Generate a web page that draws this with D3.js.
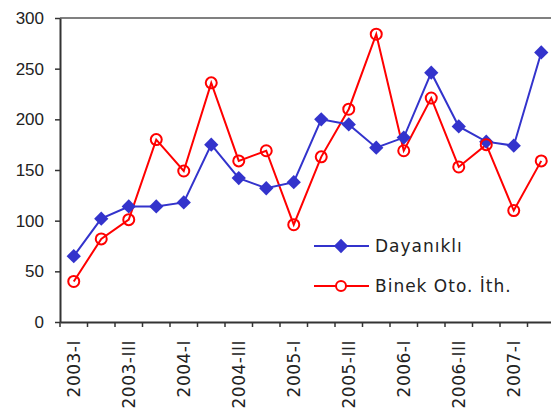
<!DOCTYPE html>
<html>
<head>
<meta charset="utf-8">
<script src="https://cdn.jsdelivr.net/npm/d3@7"></script>
<style>
    body { margin: 0; background: #fff; }
    svg { display: block; font-family: "Century Gothic", "DejaVu Sans", sans-serif; }
</style>
</head>
<body>
<div id="chart"></div>
<script>
const categories = ['2003-I', '2003-II', '2003-III', '2003-IV', '2004-I', '2004-II', '2004-III', '2004-IV',
    '2005-I', '2005-II', '2005-III', '2005-IV', '2006-I', '2006-II', '2006-III', '2006-IV', '2007-I', '2007-II'];
const dayanikli = [65, 102, 114, 114, 118, 175, 142, 132, 138, 200, 195, 172, 182, 246, 193, 178, 174, 266];
const binekOto = [40, 82, 101, 180, 149, 236, 159, 169, 96, 163, 210, 284, 169, 221, 153, 175, 110, 159];
const yTicks = [0, 50, 100, 150, 200, 250, 300];
const seriesNames = ['Dayanıklı', 'Binek Oto. İth.'];

const width = 551, height = 412;
const margin = { top: 18, right: -4, bottom: 90, left: 60 };

const svg = d3.select('#chart').append('svg')
    .attr('width', width)
    .attr('height', height);

const x = d3.scaleBand()
    .domain(categories)
    .range([margin.left, width - margin.right]);

const y = d3.scaleLinear()
    .domain([0, 300])
    .range([height - margin.bottom, margin.top]);

// top border
svg.append('line')
    .attr('x1', margin.left).attr('x2', width)
    .attr('y1', y(300)).attr('y2', y(300))
    .attr('stroke', '#808080').attr('stroke-width', 2);

// y axis
const yAxis = svg.append('g')
    .attr('transform', `translate(${margin.left},0)`)
    .call(d3.axisLeft(y).tickValues(yTicks).tickSize(5).tickPadding(11).tickSizeOuter(0));
yAxis.select('.domain').attr('stroke', '#333').attr('stroke-width', 2);
yAxis.selectAll('.tick line').attr('stroke', '#333').attr('stroke-width', 1.5);
yAxis.selectAll('text').attr('font-size', 17).attr('fill', '#222').attr('font-family', null);

// x axis
const xAxis = svg.append('g')
    .attr('transform', `translate(0,${y(0)})`)
    .call(d3.axisBottom(x).tickSize(0).tickSizeOuter(0).tickFormat(''));
xAxis.select('.domain').attr('stroke', '#333').attr('stroke-width', 2);

// tick marks between categories
svg.append('g').selectAll('line')
    .data(categories)
    .join('line')
    .attr('x1', d => x(d)).attr('x2', d => x(d))
    .attr('y1', y(0)).attr('y2', y(0) + 5)
    .attr('stroke', '#333').attr('stroke-width', 1.5);

// category labels, every second one
svg.append('g').selectAll('text')
    .data(categories.filter((d, i) => i % 2 === 0))
    .join('text')
    .attr('transform', d => `translate(${x(d) + x.bandwidth() / 2 + 6},${y(0) + 18}) rotate(-90)`)
    .attr('text-anchor', 'end')
    .attr('font-size', 17)
    .attr('letter-spacing', 0.5)
    .attr('fill', '#222')
    .text(d => d);

const line = d3.line()
    .x((d, i) => x(categories[i]) + x.bandwidth() / 2)
    .y(d => y(d));

const blue = '#3333cc', red = '#ff0000';

// Binek Oto. line
svg.append('path')
    .datum(binekOto)
    .attr('fill', 'none')
    .attr('stroke', red)
    .attr('stroke-width', 2)
    .attr('d', line);

// Dayanikli line
svg.append('path')
    .datum(dayanikli)
    .attr('fill', 'none')
    .attr('stroke', blue)
    .attr('stroke-width', 2)
    .attr('d', line);

const diamond = d3.symbol().type(d3.symbolDiamond2).size(130);

svg.append('g').selectAll('path')
    .data(dayanikli)
    .join('path')
    .attr('transform', (d, i) => `translate(${x(categories[i]) + x.bandwidth() / 2},${y(d)})`)
    .attr('d', diamond)
    .attr('fill', blue);

svg.append('g').selectAll('circle')
    .data(binekOto)
    .join('circle')
    .attr('cx', (d, i) => x(categories[i]) + x.bandwidth() / 2)
    .attr('cy', d => y(d))
    .attr('r', 5.5)
    .attr('fill', 'none')
    .attr('stroke', red)
    .attr('stroke-width', 2);

// legend
const legend = svg.append('g').attr('transform', 'translate(314,246)');
seriesNames.forEach((name, i) => {
    const g = legend.append('g').attr('transform', `translate(0,${i * 40})`);
    g.append('line')
        .attr('x1', 0).attr('x2', 55)
        .attr('stroke', i === 0 ? blue : red)
        .attr('stroke-width', 2);
    if (i === 0) {
        g.append('path').attr('transform', 'translate(27,0)').attr('d', diamond).attr('fill', blue);
    } else {
        g.append('circle').attr('cx', 27).attr('r', 5).attr('fill', '#fff')
            .attr('stroke', red).attr('stroke-width', 2);
    }
    g.append('text')
        .attr('x', 61)
        .attr('dy', '0.35em')
        .attr('font-size', 17)
        .attr('letter-spacing', 1)
        .attr('fill', '#222')
        .text(name);
});
</script>
</body>
</html>
